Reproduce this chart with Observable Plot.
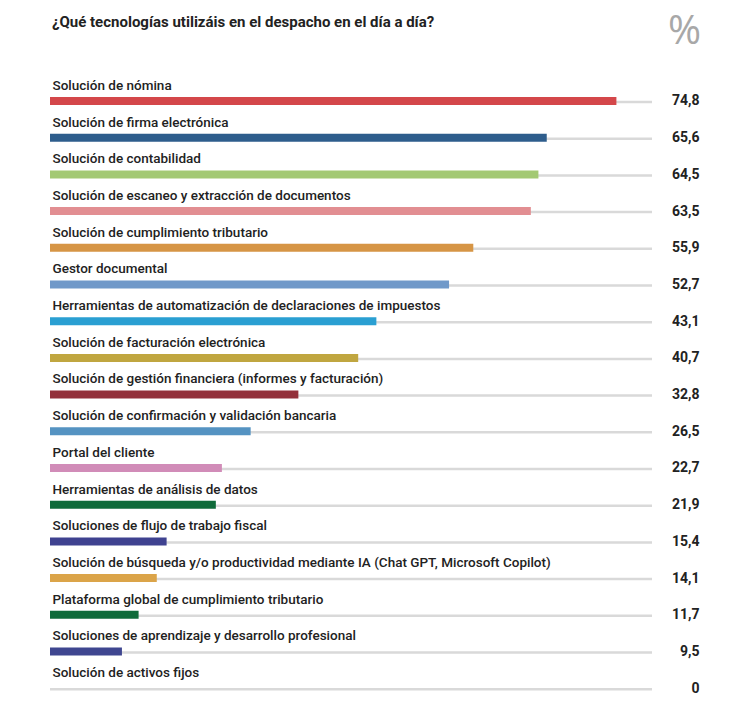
<!DOCTYPE html>
<html>
<head>
<meta charset="utf-8">
<script src="https://cdn.jsdelivr.net/npm/d3@7"></script>
<script src="https://cdn.jsdelivr.net/npm/@observablehq/plot@0.6"></script>
<style>
  html, body { margin: 0; padding: 0; background: #fff; overflow: hidden; }
  #wrap { width: 737px; position: relative; font-family: Roboto, "Noto Sans", sans-serif; }
  #header { height: 40px; position: relative; }
  #title { position: absolute; left: 52px; top: 13px; font-size: 15px; font-weight: 700; color: #222; }
  #pct { position: absolute; left: 668px; top: 1px; font-size: 40px; font-weight: 400; color: #a8a8a8; font-family: "Open Sans", sans-serif; }
  #chart svg { display: block; }
</style>
</head>
<body>
<div id="wrap">
  <div id="header">
    <div id="title">¿Qué tecnologías utilizáis en el despacho en el día a día?</div>
    <div id="pct">%</div>
  </div>
  <div id="chart"></div>
</div>
<script>
const categories = [
  "Solución de nómina",
  "Solución de firma electrónica",
  "Solución de contabilidad",
  "Solución de escaneo y extracción de documentos",
  "Solución de cumplimiento tributario",
  "Gestor documental",
  "Herramientas de automatización de declaraciones de impuestos",
  "Solución de facturación electrónica",
  "Solución de gestión financiera (informes y facturación)",
  "Solución de confirmación y validación bancaria",
  "Portal del cliente",
  "Herramientas de análisis de datos",
  "Soluciones de flujo de trabajo fiscal",
  "Solución de búsqueda y/o productividad mediante IA (Chat GPT, Microsoft Copilot)",
  "Plataforma global de cumplimiento tributario",
  "Soluciones de aprendizaje y desarrollo profesional",
  "Solución de activos fijos"
];
const values = [74.8, 65.6, 64.5, 63.5, 55.9, 52.7, 43.1, 40.7, 32.8, 26.5, 22.7, 21.9, 15.4, 14.1, 11.7, 9.5, 0];
const valueLabels = ["74,8","65,6","64,5","63,5","55,9","52,7","43,1","40,7","32,8","26,5","22,7","21,9","15,4","14,1","11,7","9,5","0"];
const colors = ["#d4474a","#2e5d8c","#a3c973","#e28e92","#d69545","#7099c9","#2a9fd2","#c0a640","#93303a","#5593c2","#d18cb8","#0f6b3a","#3f4290","#dba449","#0f6b3a","#3f4690","#cccccc"];
const trackMax = 79.5;

const data = categories.map((c, i) => ({category: c, value: values[i], label: valueLabels[i], color: colors[i], track: trackMax}));

const chart = Plot.plot({
  width: 737,
  height: 663,
  marginLeft: 50,
  marginRight: 85,
  marginTop: 60.5,
  marginBottom: 15.3,
  style: {fontFamily: "Roboto, 'Noto Sans', sans-serif", background: "#fff", maxWidth: "none"},
  x: {domain: [0, trackMax], axis: null},
  y: {type: "point", domain: categories, padding: 0, round: false, axis: null},
  marks: [
    Plot.ruleY(data, {y: "category", x1: 0, x2: "track", stroke: "#d9d9d9", strokeWidth: 2.5, dy: 1}),
    Plot.ruleY(data.filter(d => d.value > 0), {y: "category", x1: 0, x2: "value", stroke: "color", strokeWidth: 8}),
    Plot.text(data, {y: "category", x: 0, text: "category", textAnchor: "start", dx: 2, dy: -15.5, fontSize: 13.5, fontWeight: 500, fill: "#222"}),
    Plot.text(data, {y: "category", frameAnchor: "right", text: "label", textAnchor: "end", dx: 47, dy: 0, fontSize: 14, fontWeight: 700, fill: "#222"})
  ]
});
document.getElementById("chart").appendChild(chart);
</script>
</body>
</html>
